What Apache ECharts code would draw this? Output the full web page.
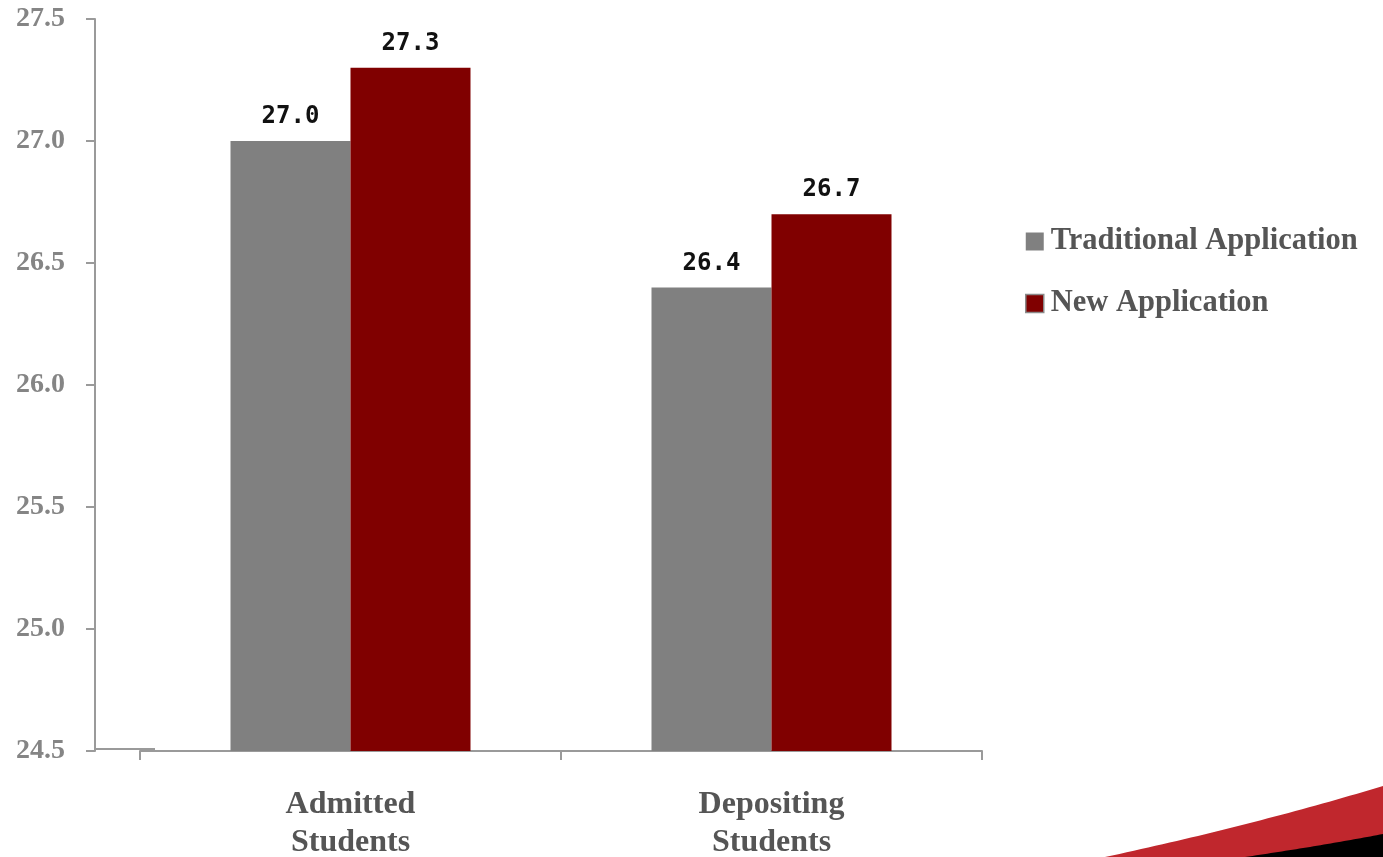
<!DOCTYPE html>
<html>
<head>
<meta charset="utf-8">
<style>
  html, body { margin: 0; padding: 0; background: #ffffff; }
  #chart { width: 1383px; height: 857px; }
</style>
<script src="https://cdn.jsdelivr.net/npm/echarts@6/dist/echarts.min.js"></script>
</head>
<body>
<div id="chart"></div>
<script>
// Average scores by applicant group and application type
const categories = ['Admitted\nStudents', 'Depositing\nStudents'];
const seriesNames = ['Traditional Application', 'New Application'];
const traditionalValues = [27.0, 26.4];
const newValues = [27.3, 26.7];
const yTicks = { min: 24.5, max: 27.5, interval: 0.5 };

const SERIF = '"Liberation Serif", "Times New Roman", serif';
const GRAY_BAR = '#808080';
const RED_BAR = '#800000';
const AXIS_GRAY = '#9a9a9a';

// corner swoosh outline: quadratic curve sampled into polygon points, closed along the page edge
function swoosh(x0, y0, cx, cy, x1, y1) {
  const pts = [];
  for (let i = 0; i <= 40; i++) {
    const t = i / 40, u = 1 - t;
    pts.push([u * u * x0 + 2 * u * t * cx + t * t * x1, u * u * y0 + 2 * u * t * cy + t * t * y1]);
  }
  pts.push([1383, 857]);
  return pts;
}

const chart = echarts.init(document.getElementById('chart'), null, { renderer: 'canvas' });

const valueLabel = {
  show: true,
  position: 'top',
  distance: 12,
  formatter: p => p.value.toFixed(1),
  fontFamily: '"DejaVu Sans Mono", monospace',
  fontWeight: 'bold',
  fontSize: 24,
  color: '#111111'
};

chart.setOption({
  animation: false,
  backgroundColor: '#ffffff',
  grid: { left: 140, right: 401, top: 19, bottom: 106, containLabel: false, outerBoundsMode: 'none' },
  legend: {
    orient: 'vertical',
    left: 1020,
    top: 221,
    itemWidth: 18,
    itemHeight: 18,
    itemGap: 31,
    icon: 'rect',
    textStyle: { fontFamily: SERIF, fontWeight: 'bold', fontSize: 30.5, color: '#555555', padding: [0, 0, 0, 2] },
    data: [
      { name: seriesNames[0] },
      { name: seriesNames[1], itemStyle: { borderColor: '#8a8a8a', borderWidth: 1.5 } }
    ]
  },
  xAxis: {
    type: 'category',
    data: categories,
    axisLine: { show: true, lineStyle: { color: AXIS_GRAY, width: 2 } },
    axisTick: { show: true, length: 9, lineStyle: { color: AXIS_GRAY, width: 2 } },
    axisLabel: {
      margin: 35,
      fontFamily: SERIF,
      fontWeight: 'bold',
      fontSize: 32,
      lineHeight: 38,
      color: '#555555'
    },
    splitLine: { show: false }
  },
  yAxis: {
    type: 'value',
    min: yTicks.min,
    max: yTicks.max,
    interval: yTicks.interval,
    offset: 45,
    axisLine: { show: true, lineStyle: { color: AXIS_GRAY, width: 2 } },
    axisTick: { show: true, length: 9, lineStyle: { color: AXIS_GRAY, width: 2 } },
    axisLabel: {
      margin: 30,
      padding: [6, 0, 0, 0],
      formatter: v => v.toFixed(1),
      fontFamily: SERIF,
      fontWeight: 'bold',
      fontSize: 28,
      color: '#858585'
    },
    splitLine: { show: false }
  },
  series: [
    {
      name: seriesNames[0],
      type: 'bar',
      data: traditionalValues,
      barWidth: 120,
      barGap: '0%',
      itemStyle: { color: GRAY_BAR },
      label: valueLabel
    },
    {
      name: seriesNames[1],
      type: 'bar',
      data: newValues,
      barWidth: 120,
      barGap: '0%',
      itemStyle: { color: RED_BAR },
      label: valueLabel
    }
  ],
  graphic: [
    // short stretch of baseline joining the value axis to the category axis
    { type: 'line', shape: { x1: 95, y1: 749, x2: 155, y2: 749 }, style: { stroke: AXIS_GRAY, lineWidth: 2 }, silent: true },
    // slide corner swoosh
    { type: 'polygon', shape: { points: swoosh(1105, 857, 1250, 826, 1383, 786) }, style: { fill: '#c0272d' }, silent: true },
    { type: 'polygon', shape: { points: swoosh(1245, 857, 1320, 846, 1383, 834) }, style: { fill: '#000000' }, silent: true }
  ]
});
</script>
</body>
</html>
